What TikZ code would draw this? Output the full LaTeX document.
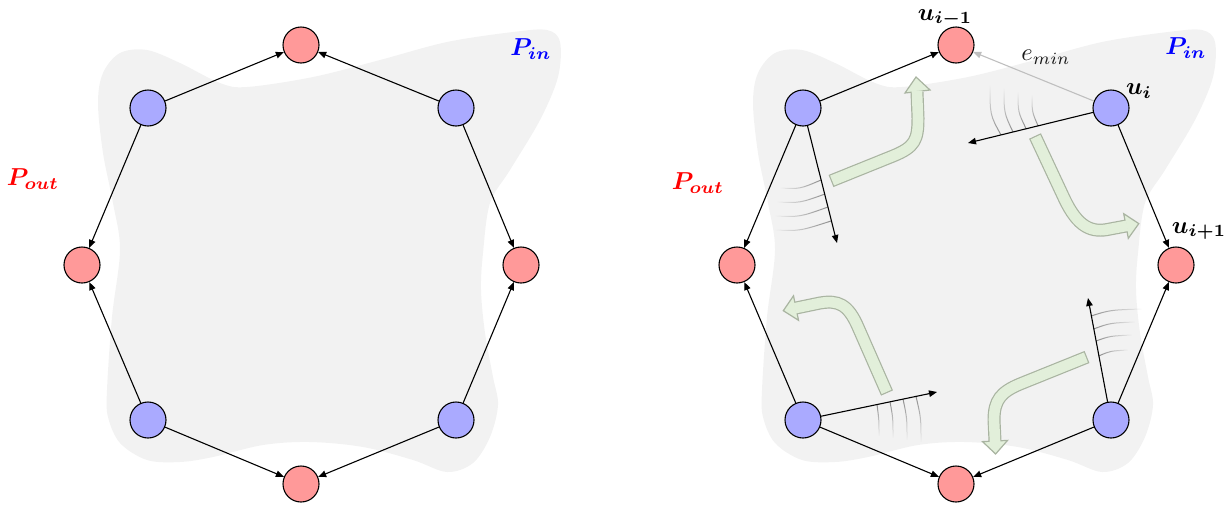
\documentclass[tikz,border=0pt]{standalone}
\usepackage{bm}
\usetikzlibrary{arrows.meta,fadings}
\definecolor{blobgray}{HTML}{F2F2F2}
\definecolor{bnode}{HTML}{AAAAFF}
\definecolor{rnode}{HTML}{FF9999}
\definecolor{gfill}{HTML}{E2EFDA}
\definecolor{gedge}{HTML}{A9B4A1}
\definecolor{mline}{HTML}{8C8C8C}
\definecolor{emincol}{HTML}{BFBFBF}
\tikzfading[name=fadeW, left color=transparent!100, middle color=transparent!0, right color=transparent!0]
\tikzfading[name=fadeE, left color=transparent!0, middle color=transparent!0, right color=transparent!100]
\tikzfading[name=fadeN, top color=transparent!100, middle color=transparent!0, bottom color=transparent!0]
\tikzfading[name=fadeS, top color=transparent!0, middle color=transparent!0, bottom color=transparent!100]
\tikzset{
  vtx/.style={circle,draw=black,line width=1.1pt,minimum size=36pt,inner sep=0pt},
  bv/.style={vtx,fill=bnode},
  rv/.style={vtx,fill=rnode},
  edge/.style={line width=1.1pt,-{Triangle[length=8pt,width=6.5pt]}},
  lbl/.style={inner sep=0pt},
  mot/.style={draw=mline,line width=1pt},
  gshaftout/.style={draw=gedge,line width=13pt},
  gshaftin/.style={draw=gfill,line width=10.6pt,shorten <=1.2pt,shorten >=-1.2pt},
  ghead/.style={fill=gfill,draw=gedge,line width=1.2pt,line join=miter},
}
\newcommand\garrow[4]{%
  \draw[gshaftout] #1;
  \filldraw[ghead] #2 -- #3 -- #4 -- cycle;
  \draw[gshaftin] #1;
}
\newcommand\bigtxt[1]{\scalebox{2.45}{#1}}
\begin{document}
\begin{tikzpicture}[x=1pt,y=-1pt]
\useasboundingbox (0,0) rectangle (1228,504);
% blobs
\foreach \dx in {0,655}{
\fill[blobgray,xshift=\dx] plot[smooth cycle,tension=0.55] coordinates {
(147,50) (180,63) (220,83) (247,87) (313,77) (380,60) (447,42) (513,32) (547,30) (560,42) (558,77) (540,120) (510,170) (490,203) (483,253) (481,290) (485,333) (493,377) (498,405) (490,437) (473,463) (447,472) (413,460) (363,447) (310,442) (263,445) (213,457) (180,462) (147,460) (120,443) (108,417) (107,390) (112,317) (120,250) (113,203) (103,153) (98,103) (103,73) (120,53)};
}
% labels
\node[lbl,text=blue] (pin1) at (531,49) {\bigtxt{$\bm{P_{in}}$}};
\node[lbl,text=red] (pout1) at (33,179) {\bigtxt{$\bm{P_{out}}$}};
\node[lbl,text=blue] (pin2) at (1186,48) {\bigtxt{$\bm{P_{in}}$}};
\node[lbl,text=red] (pout2) at (698,183) {\bigtxt{$\bm{P_{out}}$}};
% left panel nodes
\node[rv] (lt) at (301,45) {};
\node[bv] (lul) at (148,108) {};
\node[bv] (lur) at (456,108) {};
\node[rv] (ll) at (82,265) {};
\node[rv] (lr) at (521,265) {};
\node[bv] (ldl) at (148,420) {};
\node[bv] (ldr) at (456,420) {};
\node[rv] (lb) at (301,484) {};
\draw[edge] (lul) -- (lt);
\draw[edge] (lur) -- (lt);
\draw[edge] (lul) -- (ll);
\draw[edge] (lur) -- (lr);
\draw[edge] (ldl) -- (ll);
\draw[edge] (ldr) -- (lr);
\draw[edge] (ldl) -- (lb);
\draw[edge] (ldr) -- (lb);
% right panel: green arrows
\garrow{(831,181) -- (893,156) .. controls (915,147) and (918,140) .. (918,118) -- (917,92)}{(916,77)}{(905,93)}{(930,90)}
\garrow{(1035,136) -- (1064,198) .. controls (1078,228) and (1092,233) .. (1110,229) -- (1126,226)}{(1138.8,223.6)}{(1123.7,213.7)}{(1128.3,238.3)}
\garrow{(887,393) -- (858,327) .. controls (848,304) and (838,300) .. (820,303) -- (796,308)}{(783.3,310.7)}{(798.5,320.3)}{(793.5,295.8)}
\garrow{(1087,357) -- (1020,384) .. controls (1001,392) and (994,400) .. (994,420) -- (995,441)}{(995.6,454)}{(1007.5,440.4)}{(982.5,441.6)}
% motion lines
\draw[mot,path fading=fadeW] (780,188) .. controls (800,189) .. (821,180);
\draw[mot,path fading=fadeW] (777,202) .. controls (800,203) .. (825,194);
\draw[mot,path fading=fadeW] (775,216) .. controls (800,217) .. (828,207);
\draw[mot,path fading=fadeW] (775,230) .. controls (800,231) .. (831,221);
\draw[mot,path fading=fadeN] (990,85) .. controls (990,115) .. (1001,135);
\draw[mot,path fading=fadeN] (1004,88) .. controls (1004,113) .. (1013,132);
\draw[mot,path fading=fadeN] (1018,92) .. controls (1018,112) .. (1026,128.5);
\draw[mot,path fading=fadeN] (1032,95) .. controls (1032,112) .. (1038,125.7);
\draw[mot,path fading=fadeS] (877,404.5) .. controls (879,420) .. (879,436);
\draw[mot,path fading=fadeS] (890,401.8) .. controls (893,418) .. (893,438);
\draw[mot,path fading=fadeS] (903,399) .. controls (907,418) .. (907,440);
\draw[mot,path fading=fadeS] (916,396.4) .. controls (921,418) .. (921,442);
\draw[mot,path fading=fadeE] (1091,316) .. controls (1110,310) .. (1142,309);
\draw[mot,path fading=fadeE] (1093.5,329) .. controls (1110,323) .. (1135,322);
\draw[mot,path fading=fadeE] (1096,341) .. controls (1110,336) .. (1132,335);
\draw[mot,path fading=fadeE] (1098.7,356) .. controls (1110,351) .. (1128,350);
% right panel nodes
\node[rv] (rt) at (956,45) {};
\node[bv] (rul) at (803,108) {};
\node[bv] (rur) at (1111,108) {};
\node[rv] (rl) at (737,265) {};
\node[rv] (rr) at (1176,265) {};
\node[bv] (rdl) at (803,420) {};
\node[bv] (rdr) at (1111,420) {};
\node[rv] (rb) at (956,484) {};
\draw[edge,draw=emincol] (rur) -- (rt);
\draw[edge] (rul) -- (rt);
\draw[edge] (rul) -- (rl);
\draw[edge] (rur) -- (rr);
\draw[edge] (rdl) -- (rl);
\draw[edge] (rdr) -- (rr);
\draw[edge] (rdl) -- (rb);
\draw[edge] (rdr) -- (rb);
\coordinate (a1) at (837,243);
\coordinate (a2) at (968,143);
\coordinate (a3) at (937,392);
\coordinate (a4) at (1088,298);
\draw[edge] (rul) -- (a1);
\draw[edge] (rur) -- (a2);
\draw[edge] (rdl) -- (a3);
\draw[edge] (rdr) -- (a4);
% right labels
\node[lbl] (uim1) at (945,18) {\bigtxt{$\bm{u_{i-1}}$}};
\node[lbl] (ui) at (1139,91) {\bigtxt{$\bm{u_i}$}};
\node[lbl] (uip1) at (1199,231) {\bigtxt{$\bm{u_{i+1}}$}};
\node[lbl,text=black!90] (emin) at (1046,57) {\bigtxt{$e_{min}$}};
\end{tikzpicture}
\end{document}
